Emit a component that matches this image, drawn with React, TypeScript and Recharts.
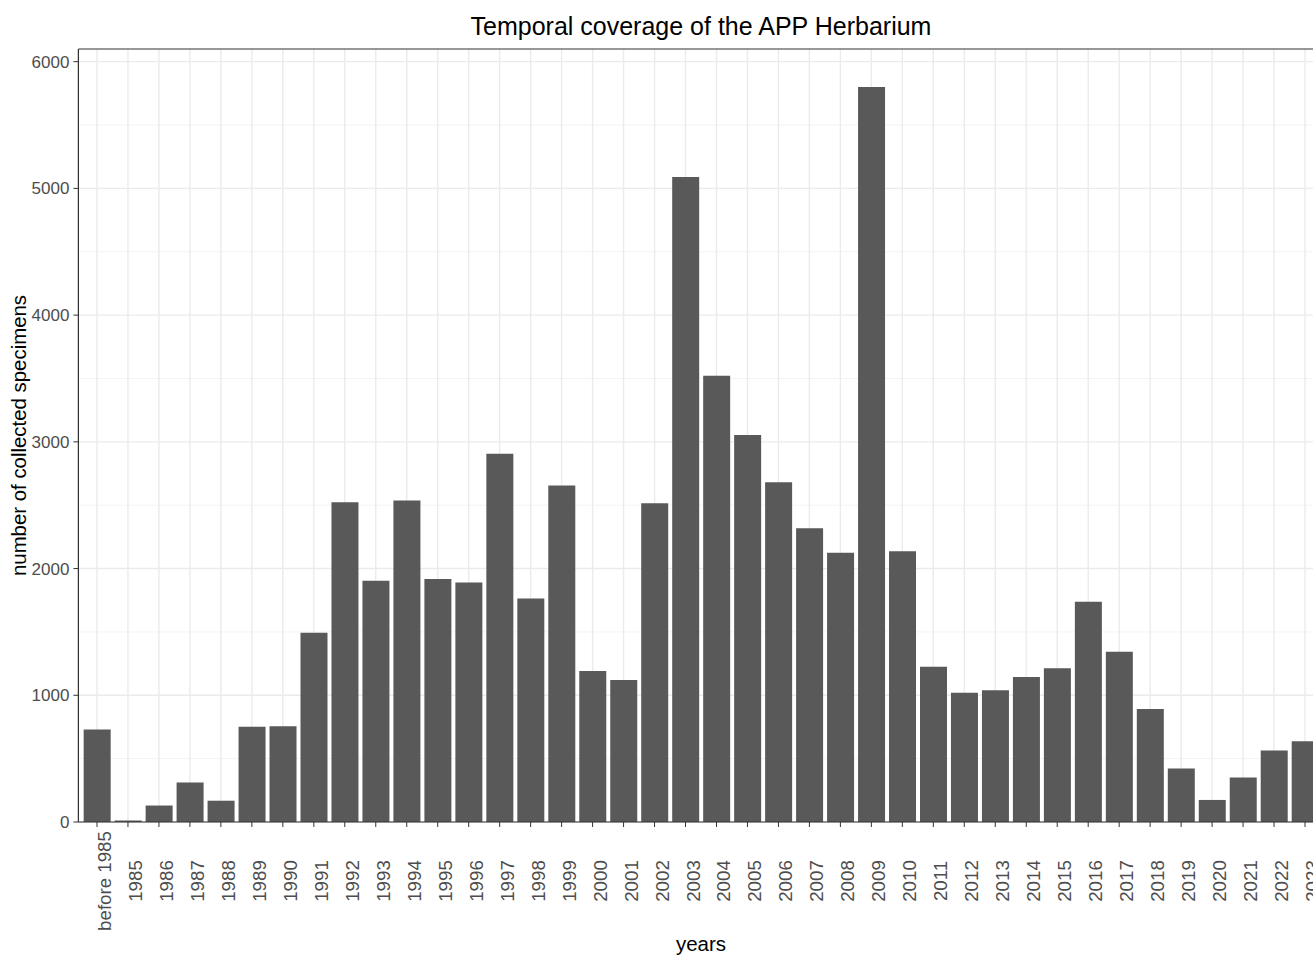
import { BarChart, Bar, XAxis, YAxis, CartesianGrid, ReferenceLine } from "recharts";

const years = [
  "before 1985", "1985", "1986", "1987", "1988", "1989", "1990",
  "1991", "1992", "1993", "1994", "1995", "1996", "1997", "1998", "1999", "2000",
  "2001", "2002", "2003", "2004", "2005", "2006", "2007", "2008", "2009", "2010",
  "2011", "2012", "2013", "2014", "2015", "2016", "2017", "2018", "2019", "2020",
  "2021", "2022", "2023",
];

const specimens = [
  730, 11, 130, 311, 168, 751, 756,
  1494, 2524, 1903, 2537, 1918, 1889, 2905, 1763, 2655, 1192,
  1121, 2516, 5089, 3521, 3053, 2682, 2319, 2124, 5800, 2137,
  1225, 1020, 1039, 1144, 1213, 1739, 1344, 891, 422, 174,
  351, 564, 638,
];

const yTicks = [0, 1000, 2000, 3000, 4000, 5000, 6000];
const yMinor = [500, 1500, 2500, 3500, 4500, 5500];

const data = years.map((year, i) => ({ year, count: specimens[i] }));

const font = "'Liberation Sans', Arial, sans-serif";

// rotated year labels, centred under each tick like ggplot's angle = 90
const XTick = (props: any) => {
  const { x, y, payload } = props;
  return (
    <g transform={`translate(${x},${y})`}>
      <text
        transform="rotate(-90)"
        x={-52}
        y={14}
        textAnchor="middle"
        fill="#4d4d4d"
        fontSize={18.7}
        fontFamily={font}
      >
        {payload.value}
      </text>
    </g>
  );
};

export default function App() {
  return (
    <div
      style={{
        position: "fixed",
        left: 0,
        top: 0,
        width: 1313,
        height: 956,
        overflow: "hidden",
        background: "#fff",
        fontFamily: font,
      }}
    >
      <BarChart
        width={1340}
        height={956}
        data={data}
        margin={{ top: 49, right: 16.4, bottom: 24, left: 18.4 }}
        barCategoryGap="7%"
      >
        <CartesianGrid vertical={false} horizontalValues={yMinor} stroke="#f3f3f3" strokeWidth={1} />
        <CartesianGrid horizontalValues={yTicks} stroke="#ebebeb" strokeWidth={1.4} />
        <XAxis
          dataKey="year"
          interval={0}
          padding={{ left: 3.1, right: 3.1 }}
          height={110}
          tick={<XTick />}
          tickSize={5}
          tickLine={{ stroke: "#333333" }}
          axisLine={{ stroke: "#333333", strokeWidth: 1.2 }}
        />
        <YAxis
          domain={[0, 6100]}
          ticks={yTicks}
          allowDataOverflow
          width={60}
          tickSize={5}
          tickMargin={4}
          tick={{ fill: "#4d4d4d", fontSize: 17, fontFamily: font }}
          tickLine={{ stroke: "#333333" }}
          axisLine={{ stroke: "#333333", strokeWidth: 1.2 }}
        />
        <ReferenceLine y={6100} stroke="#333333" strokeWidth={1.2} />
        <Bar dataKey="count" fill="#595959" isAnimationActive={false} />
      </BarChart>
      <svg
        width={1313}
        height={956}
        style={{ position: "absolute", left: 0, top: 0, pointerEvents: "none" }}
      >
        <text x={701} y={26} textAnchor="middle" dominantBaseline="central" fontSize={25} fill="#000" fontFamily={font}>
          Temporal coverage of the APP Herbarium
        </text>
        <text
          x={19}
          y={435.5}
          transform="rotate(-90, 19, 435.5)"
          textAnchor="middle"
          dominantBaseline="central"
          fontSize={20.4}
          fill="#000"
          fontFamily={font}
        >
          number of collected specimens
        </text>
        <text x={701} y={943} textAnchor="middle" dominantBaseline="central" fontSize={20.5} fill="#000" fontFamily={font}>
          years
        </text>
      </svg>
    </div>
  );
}
